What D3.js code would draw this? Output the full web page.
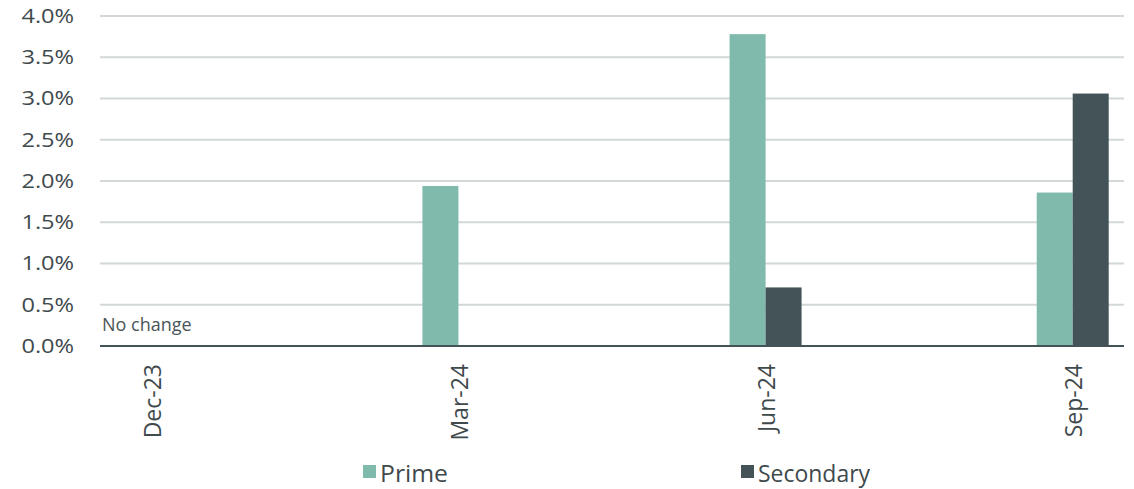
<!DOCTYPE html>
<html><head><meta charset="utf-8">
<script src="https://cdn.jsdelivr.net/npm/d3@7"></script>
<style>body{margin:0;background:#fff}</style>
</head><body><svg id="c" width="1134" height="489"></svg>
<script>
const categories = ["Dec-23","Mar-24","Jun-24","Sep-24"];
const prime = [0, 1.94, 3.78, 1.86];
const secondary = [0, 0, 0.71, 3.06];
const seriesNames = ["Prime","Secondary"];
const yTicks = [0,0.5,1.0,1.5,2.0,2.5,3.0,3.5,4.0];
const colors = ["#80BAAC","#435357"];

(function(){
const svg = d3.select("#c");
const pl=100, pr=1124, pt=16, pb=346;
const x = d3.scalePoint().domain(categories).range([pl,pr]).padding(0.167);
const y = d3.scaleLinear().domain([0,4]).range([pb,pt]);
const bw = 36;
const textCol = "#3f4a4d";

// grid
svg.append("g").selectAll("line").data(yTicks.filter(d=>d>0)).join("line")
  .attr("x1",pl).attr("x2",pr).attr("y1",d=>y(d)).attr("y2",d=>y(d))
  .attr("stroke","#d2d7d8").attr("stroke-width",2);

// y axis labels
const yAx = svg.append("g").attr("transform",`translate(${pl},0)`)
  .call(d3.axisLeft(y).tickValues(yTicks).tickFormat(d=>d.toFixed(1)+"%").tickSize(0).tickPadding(0));
yAx.select(".domain").remove();
yAx.selectAll("text").attr("font-family","Open Sans").attr("font-size",20).attr("fill",textCol)
  .attr("x",-22).attr("transform","scale(1.18,1)");

// bars
const data = categories.map((c,i)=>({c, vals:[prime[i],secondary[i]]}));
const g = svg.append("g");
data.forEach(d=>{
  d.vals.forEach((v,j)=>{
    if(v<=0) return;
    g.append("rect").attr("x",x(d.c)-bw+j*bw).attr("width",bw)
      .attr("y",y(v)).attr("height",y(0)-y(v)).attr("fill",colors[j]);
  });
});

// x axis
svg.append("line").attr("x1",pl).attr("x2",pr).attr("y1",y(0)).attr("y2",y(0))
  .attr("stroke","#435357").attr("stroke-width",2);
const xAx = svg.append("g").attr("transform",`translate(0,${pb})`)
  .call(d3.axisBottom(x).tickSize(0).tickPadding(0));
xAx.select(".domain").remove();
xAx.selectAll("text").attr("font-family","Open Sans").attr("font-size",23).attr("fill",textCol)
  .attr("text-anchor","end").attr("dy","0.35em")
  .attr("transform","translate(1,18) rotate(-90)").attr("x",0).attr("y",0);

// annotation
svg.append("text").attr("x",102).attr("y",331).text("No change")
  .attr("font-family","Open Sans").attr("font-size",18).attr("fill","#4a5558");

// legend
const legX = [363, 741];
seriesNames.forEach((n,i)=>{
  svg.append("rect").attr("x",legX[i]).attr("y",465).attr("width",13).attr("height",13).attr("fill",colors[i]);
  svg.append("text").attr("x",legX[i]+17).attr("y",482).text(n)
    .attr("font-family","Open Sans").attr("font-size",24).attr("fill",textCol)
    .attr("textLength", i===0?68:112).attr("lengthAdjust","spacingAndGlyphs");
});
})();
</script></body></html>
